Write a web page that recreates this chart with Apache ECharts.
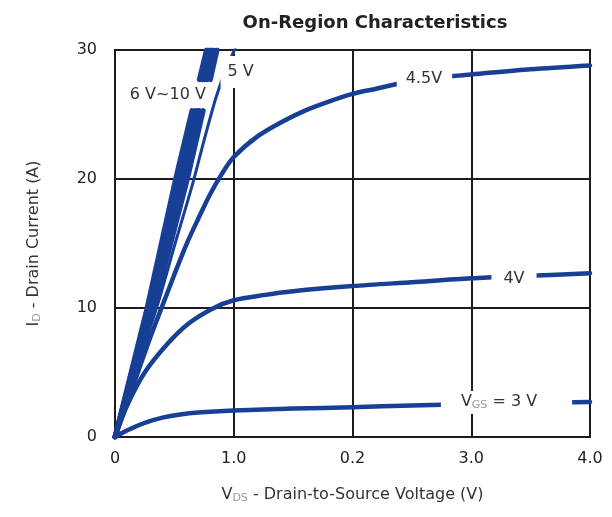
<!DOCTYPE html>
<html>
<head>
<meta charset="utf-8">
<script src="https://cdn.jsdelivr.net/npm/echarts@6/dist/echarts.min.js"></script>
<style>
html,body{margin:0;padding:0;background:#fff;}
#chart{width:612px;height:517px;}
</style>
</head>
<body>
<div id="chart"></div>
<script>
// ---- data ----
const titleText = 'On-Region Characteristics';
const xTickLabels = ['0', '1.0', '0.2', '3.0', '4.0'];
const yTickLabels = ['0', '10', '20', '30'];

const GAP = ['-', '-'];
const vgs10 = [[0,0],[0.27,10],[0.51,20],[0.648,25.3],GAP,[0.710,27.7],[0.77,30]];
const vgs9  = [[0,0],[0.28,10],[0.54,20],[0.673,25.3],GAP,[0.733,27.7],[0.79,30]];
const vgs8  = [[0,0],[0.30,10],[0.56,20],[0.693,25.3],GAP,[0.753,27.7],[0.81,30]];
const vgs7  = [[0,0],[0.31,10],[0.58,20],[0.713,25.3],GAP,[0.773,27.7],[0.83,30]];
const vgs6  = [[0,0],[0.33,10],[0.61,20],[0.743,25.3],GAP,[0.803,27.7],[0.86,30]];
const vgs5  = [[0,0],[0.2,5.8],[0.36,10.3],[0.5,14.8],[0.65,19.5],[0.75,23],[0.85,26.3],[0.93,28.4],[1.02,30.3]];
const vgs45 = [[0,0],[0.1,2.6],[0.2,5.2],[0.3,7.8],[0.4,10.2],[0.5,12.6],[0.6,14.9],[0.7,16.9],[0.8,18.8],[0.9,20.4],[1.0,21.7],[1.2,23.3],[1.4,24.4],[1.6,25.3],[1.8,26.0],[2.0,26.6],[2.2,27.0],[2.4,27.4],[2.6,27.7],[2.8,27.95],[3.0,28.1],[3.5,28.5],[4.0,28.8]];
const vgs4  = [[0,0],[0.1,2.4],[0.25,5.0],[0.45,7.3],[0.62,8.8],[0.82,9.95],[1.0,10.6],[1.25,11.0],[1.5,11.3],[2.0,11.7],[2.5,12.0],[3.0,12.3],[3.5,12.5],[4.0,12.7]];
const vgs3  = [[0,0],[0.1,0.5],[0.25,1.1],[0.4,1.5],[0.55,1.75],[0.7,1.9],[1.0,2.05],[1.5,2.2],[2.0,2.3],[2.5,2.45],[3.0,2.55],[3.5,2.65],[4.0,2.72]];

const curveLabels = ['6 V~10 V', '5 V', '4.5V', '4V', '{a|V}{s|GS}{a| = 3 V}'];
const labelAnchors = [[0.445, 26.5], [1.05, 28.3], [2.606, 27.75], [3.36, 12.25], [3.297, 2.67]];

// ---- styles ----
const BLUE = '#173f95';
const GRIDC = '#1c1c1c';
const FONT = 'DejaVu Sans';
const labelPads = [0, [8,5,8,7], [3,10,3,9], [3,12,3,12], [3,35,3,20]];
const labelBg = ['transparent', '#fff', '#fff', '#fff', '#fff'];
const richSub = {
  a: { fontFamily: FONT, fontSize: 16, color: '#333', lineHeight: 17, verticalAlign: 'top' },
  s: { fontFamily: FONT, fontSize: 11, color: '#9a9a9a', lineHeight: 11, verticalAlign: 'bottom', padding: [7,0,0,0] }
};

function lineSeries(data, width, smooth) {
  return {
    type: 'line', data: data, showSymbol: false, symbol: 'none',
    smooth: smooth, connectNulls: false, z: 2, silent: true,
    lineStyle: { color: BLUE, width: width, cap: 'round', join: 'round' }
  };
}

const series = [
  lineSeries(vgs10, 5, false),
  lineSeries(vgs9, 5, false),
  lineSeries(vgs8, 5, false),
  lineSeries(vgs7, 5, false),
  lineSeries(vgs6, 5, false),
  lineSeries(vgs5, 3, 0.3),
  lineSeries(vgs45, 4.5, 0.3),
  lineSeries(vgs4, 4.5, 0.3),
  lineSeries(vgs3, 4.5, 0.3),
  {
    type: 'scatter', symbolSize: 0, z: 5, silent: true,
    itemStyle: { opacity: 1 },
    emphasis: { disabled: true },
    data: curveLabels.map((t, i) => ({
      value: labelAnchors[i],
      itemStyle: { opacity: 1 },
      label: {
        show: true, position: 'inside', formatter: t, opacity: 1,
        fontFamily: FONT, fontSize: 16, color: '#333',
        backgroundColor: labelBg[i], padding: labelPads[i],
        rich: richSub
      }
    }))
  }
];

const chart = echarts.init(document.getElementById('chart'), null, { renderer: 'canvas' });
chart.setOption({
  animation: false,
  backgroundColor: '#fff',
  title: {
    text: titleText, left: 370, top: 9, textAlign: 'center',
    textStyle: { fontFamily: FONT, fontWeight: 'bold', fontSize: 18, color: '#222' }
  },
  grid: { left: 115, right: 22, top: 50, bottom: 80, show: true, borderColor: GRIDC, borderWidth: 2, backgroundColor: '#fff' },
  xAxis: {
    type: 'value', min: 0, max: 4, interval: 1,
    axisLine: { show: true, lineStyle: { color: GRIDC, width: 2 } },
    axisTick: { show: false },
    splitLine: { show: true, lineStyle: { color: GRIDC, width: 2 } },
    axisLabel: { formatter: v => xTickLabels[Math.round(v)], fontFamily: FONT, fontSize: 16, color: '#222', margin: 14 },
    name: '{a|V}{s|DS}{a| - Drain-to-Source Voltage (V)}',
    nameLocation: 'middle', nameGap: 50,
    nameTextStyle: { rich: richSub }
  },
  yAxis: {
    type: 'value', min: 0, max: 30, interval: 10,
    axisLine: { show: true, lineStyle: { color: GRIDC, width: 2 } },
    axisTick: { show: false },
    splitLine: { show: true, lineStyle: { color: GRIDC, width: 2 } },
    axisLabel: { formatter: v => yTickLabels[Math.round(v / 10)], fontFamily: FONT, fontSize: 16, color: '#222', margin: 18 },
    name: '{a|I}{s|D}{a| - Drain Current (A)}',
    nameLocation: 'middle', nameGap: 72, nameRotate: 90,
    nameTextStyle: { rich: richSub }
  },
  series: series
});
</script>
</body>
</html>
